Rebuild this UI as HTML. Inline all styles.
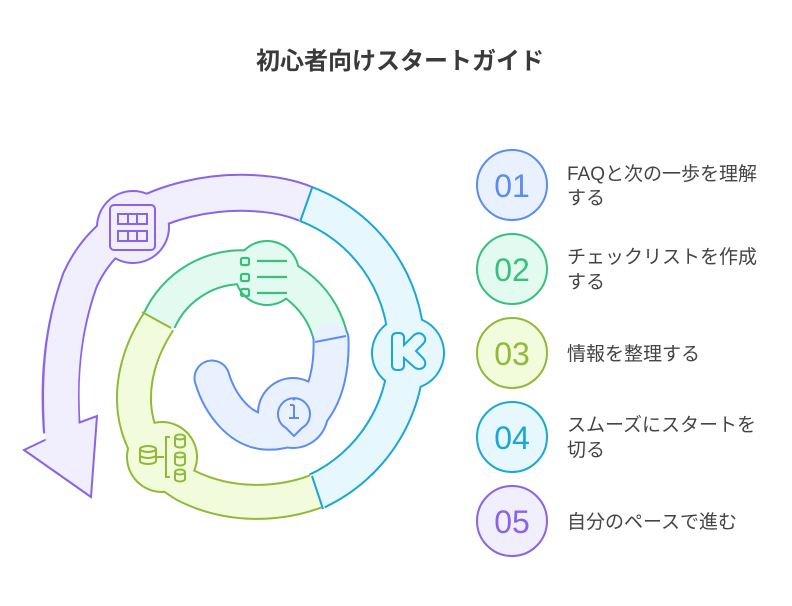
<!DOCTYPE html>
<html><head><meta charset="utf-8"><style>
html,body{margin:0;padding:0;background:#fff;}
body{width:792px;height:606px;overflow:hidden;position:relative;font-family:"Liberation Sans","Noto Sans CJK JP",sans-serif;}
</style></head><body>
<svg width="792" height="606" viewBox="0 0 792 606" xmlns="http://www.w3.org/2000/svg" style="position:absolute;left:0;top:0">
<text x="400" y="69" text-anchor="middle" font-size="24" font-weight="bold" fill="#3a3a3a" font-family="Liberation Sans, Noto Sans CJK JP, sans-serif">初心者向けスタートガイド</text>

<g fill="none" stroke-linecap="butt">
<path d="M306,204 A156,156 0 0 1 317,491" stroke="#1aa7d6" stroke-width="38"/>
<path d="M306,204 C250,180 120,190 80,280 C62,330 58,380 62,432" stroke="#8a63e8" stroke-width="38"/>
<path d="M159,321 A91,91 0 0 1 331,339" stroke="#36c07c" stroke-width="36"/>
<path d="M159,321 C120,380 125,450 185,485 C230,508 280,505 317,491" stroke="#8fba35" stroke-width="36"/>
<path d="M331,339 C333,400 305,435 265,432 C240,430 220,405 212,378" stroke="#5b8def" stroke-width="37" stroke-linecap="round"/>
<polygon points="45,440 24,450 91,497 97,416 78,423" fill="#f1eefd" stroke="#8a63e8" stroke-width="2" stroke-linejoin="miter"/>
<circle cx="133" cy="227" r="37" fill="#8a63e8"/>
<circle cx="408" cy="353" r="37" fill="#1aa7d6"/>
<circle cx="267" cy="273" r="33" fill="#36c07c"/>
<circle cx="162" cy="457" r="36" fill="#8fba35"/>
<circle cx="293" cy="413" r="36" fill="#5b8def"/>
<path d="M306,204 A156,156 0 0 1 317,491" stroke="#e6f7fd" stroke-width="34"/>
<path d="M306,204 C250,180 120,190 80,280 C62,330 58,380 63,445" stroke="#f1eefd" stroke-width="34"/>
<path d="M159,321 A91,91 0 0 1 331,339" stroke="#e3faf0" stroke-width="32"/>
<path d="M159,321 C120,380 125,450 185,485 C230,508 280,505 317,491" stroke="#f2fbdc" stroke-width="32"/>
<path d="M331,339 C333,400 305,435 265,432 C240,430 220,405 212,378" stroke="#eaf1fe" stroke-width="33" stroke-linecap="round"/>
<circle cx="133" cy="227" r="35" fill="#f1eefd"/>
<circle cx="408" cy="353" r="35" fill="#e6f7fd"/>
<circle cx="267" cy="273" r="31" fill="#e3faf0"/>
<circle cx="162" cy="457" r="34" fill="#f2fbdc"/>
<circle cx="293" cy="413" r="34" fill="#eaf1fe"/>
<line x1="312" y1="188" x2="300" y2="222" stroke="#1aa7d6" stroke-width="2"/>
<line x1="323" y1="509" x2="312" y2="476" stroke="#1aa7d6" stroke-width="2"/>
<line x1="142" y1="312" x2="171" y2="328" stroke="#8fba35" stroke-width="2"/>
<line x1="346" y1="336" x2="315" y2="342" stroke="#5b8def" stroke-width="2"/>
</g>

<g fill="none" stroke="#8a63e8" stroke-width="2">
<rect x="110" y="205" width="45" height="45" rx="4"/>
<rect x="118" y="214" width="29" height="10"/><line x1="128" y1="214" x2="128" y2="224"/><line x1="137" y1="214" x2="137" y2="224"/>
<rect x="118" y="231" width="29" height="10"/><line x1="128" y1="231" x2="128" y2="241"/><line x1="137" y1="231" x2="137" y2="241"/>
</g>
<g fill="none" stroke="#36c07c" stroke-width="2.2">
<rect x="241" y="258" width="8" height="7" rx="1.5"/><line x1="257" y1="261" x2="287" y2="261"/>
<rect x="241" y="274" width="8" height="7" rx="1.5"/><line x1="257" y1="277" x2="287" y2="277"/>
<rect x="241" y="289" width="8" height="7" rx="1.5"/><line x1="257" y1="293" x2="287" y2="293"/>
</g>
<path d="M392,338 q0,-5 5,-5 h2 q5,0 5,5 v7 l10,-10 q6,-4 10,1 q3,4 -1,8 l-7,7 l7,7 q4,5 1,9 q-5,4 -10,0 l-10,-9 v7 q0,5 -5,5 h-2 q-5,0 -5,-5 z" fill="none" stroke="#1aa7d6" stroke-width="2"/>
<g fill="none" stroke="#8fba35" stroke-width="2">
<ellipse cx="148" cy="449" rx="8" ry="3"/><path d="M140,449 v12 a8,3 0 0 0 16,0 v-12 M140,455 a8,3 0 0 0 16,0"/>
<line x1="156" y1="457" x2="164" y2="457"/><path d="M170,437 h-4 v40 h4"/>
<ellipse cx="180" cy="437" rx="5" ry="2.5"/><path d="M175,437 v8 a5,2.5 0 0 0 10,0 v-8"/>
<ellipse cx="180" cy="455" rx="5" ry="2.5"/><path d="M175,455 v8 a5,2.5 0 0 0 10,0 v-8"/>
<ellipse cx="180" cy="472" rx="5" ry="2.5"/><path d="M175,472 v7 a5,2.5 0 0 0 10,0 v-7"/>
</g>
<path d="M294,436 l-8,-8 a16,16 0 1 1 16,0 z" fill="none" stroke="#5b8def" stroke-width="2" stroke-linejoin="round"/>
<g stroke="#5b8def" stroke-width="2" fill="none"><line x1="294" y1="405" x2="294" y2="418"/><line x1="290" y1="405" x2="294" y2="405"/><line x1="289" y1="418" x2="299" y2="418"/></g>
<circle cx="294" cy="399" r="1.5" fill="#5b8def"/>

<g font-family="Liberation Sans, Noto Sans CJK JP, sans-serif">
<circle cx="512" cy="185" r="35" fill="#eaf1fe" stroke="#5b8def" stroke-width="2"/>
<text x="512" y="197" text-anchor="middle" font-size="32" fill="#5b8def">01</text>
<circle cx="512" cy="269" r="35" fill="#e3faf0" stroke="#36c07c" stroke-width="2"/>
<text x="512" y="281" text-anchor="middle" font-size="32" fill="#36c07c">02</text>
<circle cx="512" cy="353" r="35" fill="#f2fbdc" stroke="#8fba35" stroke-width="2"/>
<text x="512" y="365" text-anchor="middle" font-size="32" fill="#8fba35">03</text>
<circle cx="512" cy="437" r="35" fill="#e6f7fd" stroke="#1aa7d6" stroke-width="2"/>
<text x="512" y="449" text-anchor="middle" font-size="32" fill="#1aa7d6">04</text>
<circle cx="512" cy="521" r="35" fill="#f1eefd" stroke="#8a63e8" stroke-width="2"/>
<text x="512" y="533" text-anchor="middle" font-size="32" fill="#8a63e8">05</text>
<g font-size="19" fill="#444">
<text x="567" y="180">FAQと次の一歩を理解</text><text x="567" y="204">する</text>
<text x="567" y="263">チェックリストを作成</text><text x="567" y="288">する</text>
<text x="567" y="360">情報を整理する</text>
<text x="567" y="431">スムーズにスタートを</text><text x="567" y="456">切る</text>
<text x="567" y="528">自分のペースで進む</text>
</g>
</g>
</svg>
</body></html>
